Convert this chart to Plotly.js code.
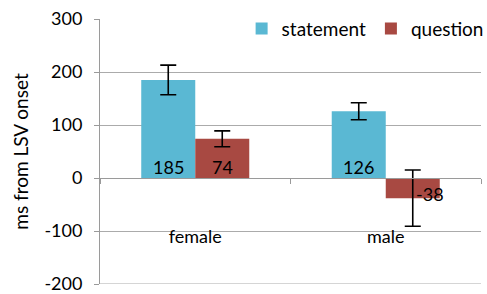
<!DOCTYPE html>
<html><head><meta charset="utf-8">
<script src="https://cdn.plot.ly/plotly-3.0.1.min.js"></script>
<style>html,body{margin:0;padding:0;background:#fff}#chart{width:487px;height:294px}</style>
</head><body><div id="chart"></div>
<script>
var categories = ["female", "male"];
var statementValues = [185, 126];
var statementErrors = [28, 16];
var questionValues = [74, -38];
var questionErrors = [15, 53];
var seriesNames = ["statement", "question"];
var yTickVals = [-200, -100, 0, 100, 200, 300];
var yTickText = ["-200", "-100", "0", "100", "200", "300"];

var FONT = "Lato, 'Open Sans', sans-serif";
var blue = "#5AB8D3", red = "#A84942";

var traces = [
  {type:"bar", name:seriesNames[0], x:categories, y:statementValues,
   marker:{color:blue},
   error_y:{type:"data", array:statementErrors, visible:true, color:"#000", thickness:1.6, width:8}},
  {type:"bar", name:seriesNames[1], x:categories, y:questionValues,
   marker:{color:red},
   error_y:{type:"data", array:questionErrors, visible:true, color:"#000", thickness:1.6, width:8}}
];

var annotations = [];
function addLabels(vals, shiftX){
  vals.forEach(function(v,i){
    annotations.push({x:categories[i], y:0, xref:"x", yref:"y", text:String(v), showarrow:false,
      xshift: v>=0 ? shiftX : shiftX+17, yshift: v>=0 ? 11 : -16,
      font:{family:FONT, size:18, color:"#000"}});
  });
}
addLabels(statementValues, -27);
addLabels(questionValues, 27);

var layout = {
  width:487, height:294,
  margin:{l:100, r:6, t:19, b:10, autoexpand:false},
  paper_bgcolor:"#fff", plot_bgcolor:"#fff",
  font:{family:FONT, size:18, color:"#000"},
  barmode:"group", bargap:0.433, bargroupgap:0,
  showlegend:true,
  legend:{orientation:"h", x:1.02, xanchor:"right", y:1.035, yanchor:"top",
          font:{family:FONT, size:19, color:"#000"}, itemwidth:30, bgcolor:"rgba(0,0,0,0)",
          traceorder:"normal"},
  xaxis:{type:"category", anchor:"free", position:0.4, showgrid:false,
         showline:true, linecolor:"#9a9a9a", linewidth:1,
         ticks:"outside", tickson:"boundaries", ticklen:5, tickcolor:"#9a9a9a",
         ticklabelstandoff:42, tickfont:{family:FONT, size:18, color:"#000"}},
  yaxis:{range:[-200, 300], tickmode:"array", tickvals:yTickVals, ticktext:yTickText,
         ticklabeloverflow:"allow",
         showgrid:true, gridcolor:"#ababab", gridwidth:1,
         zeroline:false, showline:true, linecolor:"#9a9a9a", linewidth:1,
         ticks:"outside", ticklen:5, tickcolor:"#9a9a9a", ticklabelstandoff:8,
         tickfont:{family:FONT, size:18, color:"#000"},
         title:{text:"ms from LSV onset", font:{family:FONT, size:19, color:"#000"}, standoff:10}},
  shapes:[{type:"line", layer:"below", xref:"paper", x0:0, x1:1, yref:"y",
           y0:yTickVals[0], y1:yTickVals[0], line:{color:"#ababab", width:1}}],
  annotations:annotations
};
Plotly.newPlot("chart", traces, layout, {displayModeBar:false, staticPlot:true});
</script></body></html>
